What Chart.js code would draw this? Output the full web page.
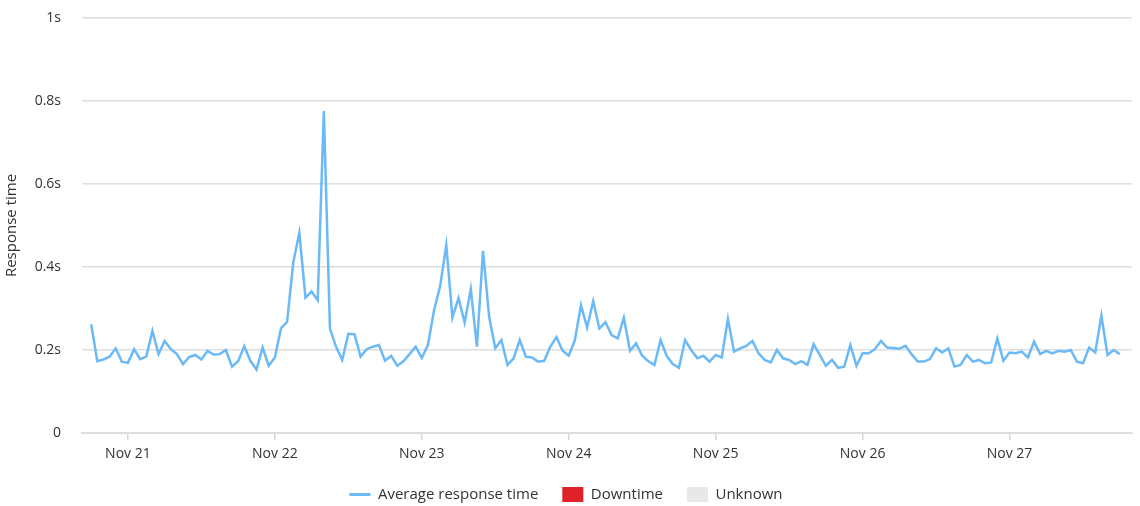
<!DOCTYPE html>
<html>
<head>
<meta charset="utf-8">
<script src="https://cdn.jsdelivr.net/npm/chart.js@4/dist/chart.umd.min.js"></script>
<style>
  html, body { margin: 0; padding: 0; background: #fff; }
  #wrap { width: 1140px; height: 506px; }
</style>
</head>
<body>
<div id="wrap"><canvas id="chart" width="1140" height="506"></canvas></div>
<script>
// Hourly averages, first point is Nov 20 18:00 (hour -6 relative to Nov 21 00:00)
const firstHour = -6;
const responseTimes = [
  0.262, 0.173, 0.177, 0.184, 0.204, 0.172, 0.169, 0.202, 0.178, 0.184,
  0.246, 0.190, 0.222, 0.202, 0.190, 0.166, 0.183, 0.188, 0.177, 0.198,
  0.189, 0.190, 0.200, 0.160, 0.173, 0.209, 0.174, 0.153, 0.206, 0.162,
  0.182, 0.252, 0.268, 0.410, 0.483, 0.326, 0.341, 0.320, 0.776, 0.251,
  0.208, 0.176, 0.239, 0.238, 0.184, 0.202, 0.208, 0.212, 0.174, 0.186,
  0.162, 0.173, 0.190, 0.208, 0.181, 0.212, 0.296, 0.354, 0.453, 0.278,
  0.325, 0.266, 0.347, 0.208, 0.439, 0.280, 0.204, 0.224, 0.164, 0.180,
  0.224, 0.184, 0.182, 0.172, 0.174, 0.208, 0.231, 0.198, 0.186, 0.224,
  0.308, 0.254, 0.318, 0.252, 0.267, 0.236, 0.228, 0.278, 0.198, 0.216,
  0.186, 0.173, 0.164, 0.224, 0.186, 0.166, 0.157, 0.224, 0.200, 0.180,
  0.186, 0.172, 0.188, 0.182, 0.275, 0.196, 0.204, 0.210, 0.222, 0.192,
  0.176, 0.170, 0.200, 0.180, 0.176, 0.166, 0.173, 0.164, 0.214, 0.188,
  0.162, 0.176, 0.157, 0.160, 0.212, 0.162, 0.192, 0.192, 0.202, 0.222,
  0.206, 0.205, 0.203, 0.210, 0.190, 0.172, 0.172, 0.178, 0.204, 0.194,
  0.204, 0.160, 0.164, 0.188, 0.172, 0.176, 0.168, 0.170, 0.228, 0.174,
  0.194, 0.192, 0.196, 0.182, 0.220, 0.190, 0.198, 0.192, 0.198, 0.196,
  0.200, 0.172, 0.168, 0.206, 0.194, 0.283, 0.188, 0.200, 0.190
];
const downtime = [];
const unknown = [];
const dayLabels = ['Nov 21', 'Nov 22', 'Nov 23', 'Nov 24', 'Nov 25', 'Nov 26', 'Nov 27'];
const yTicks = [0, 0.2, 0.4, 0.6, 0.8, 1];

const FONT = "'Open Sans', Lato, sans-serif";
const TEXT = '#333';
const GRID = '#dedede';

const points = responseTimes.map((v, i) => ({ x: firstHour + i, y: v }));

new Chart(document.getElementById('chart'), {
  type: 'line',
  data: {
    datasets: [
      {
        label: 'Average response time',
        data: points,
        borderColor: '#6bbaf7',
        backgroundColor: '#6bbaf7',
        borderWidth: 2.5,
        pointRadius: 0,
        tension: 0,
      },
      { label: 'Downtime', data: downtime, borderColor: '#df2227', backgroundColor: '#df2227' },
      { label: 'Unknown', data: unknown, borderColor: '#e8e8e8', backgroundColor: '#e8e8e8' },
    ],
  },
  options: {
    responsive: false,
    animation: false,
    devicePixelRatio: 1,
    layout: { padding: { top: 18, right: 8, left: 0, bottom: 0 } },
    plugins: {
      tooltip: { enabled: false },
      legend: {
        position: 'bottom',
        maxHeight: 43,
        labels: {
          usePointStyle: true,
          pointStyleWidth: 21,
          boxHeight: 16,
          padding: 24,
          color: TEXT,
          font: { family: FONT, size: 15 },
          generateLabels(chart) {
            return chart.data.datasets.map((ds, i) => ({
              text: ds.label,
              datasetIndex: i,
              pointStyle: i === 0 ? 'line' : 'rect',
              lineWidth: i === 0 ? 3 : 0,
              strokeStyle: ds.borderColor,
              fillStyle: ds.backgroundColor,
              fontColor: TEXT,
              hidden: false,
            }));
          },
        },
      },
    },
    scales: {
      x: {
        type: 'linear',
        min: -7.5,
        max: 164,
        afterBuildTicks(scale) {
          scale.ticks = dayLabels.map((_, i) => ({ value: i * 24 }));
        },
        afterFit(scale) { scale.height = 30; },
        ticks: {
          color: TEXT,
          font: { family: FONT, size: 14 },
          padding: 6,
          maxRotation: 0,
          autoSkip: false,
          callback: (v) => dayLabels[Math.round(v / 24)],
        },
        grid: {
          drawOnChartArea: false,
          drawTicks: true,
          tickLength: 7,
          color: '#d6d6d6',
          lineWidth: 1.5,
        },
        border: { display: true, color: GRID, width: 2 },
      },
      y: {
        min: 0,
        max: 1,
        afterBuildTicks(scale) {
          scale.ticks = yTicks.map((v) => ({ value: v }));
        },
        afterFit(scale) { scale.width = 82; },
        title: {
          display: true,
          text: 'Response time',
          color: TEXT,
          font: { family: FONT, size: 15 },
          padding: { top: 3, bottom: 4 },
        },
        ticks: {
          color: TEXT,
          font: { family: FONT, size: 14 },
          padding: 8,
          callback: (v) => (v === 0 ? '0' : (+v.toFixed(1)) + 's'),
        },
        // invisible tick marks push the labels away from the plot
        grid: { color: GRID, lineWidth: 1.5, drawTicks: true, tickLength: 13, tickColor: 'rgba(0,0,0,0)' },
        border: { display: false },
      },
    },
  },
});
</script>
</body>
</html>
